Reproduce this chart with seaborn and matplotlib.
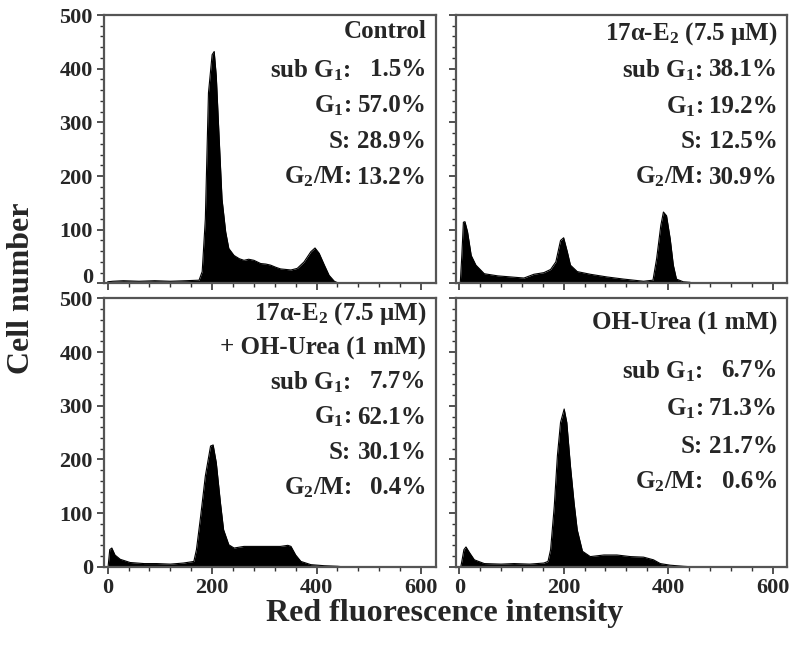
import numpy as np
import pandas as pd
import matplotlib
matplotlib.use('Agg')
import matplotlib.pyplot as plt
from matplotlib.ticker import MultipleLocator
import seaborn as sns

# histogram outlines (channel, cell count)
control_x = [0, 10, 30, 60, 90, 120, 150, 175, 181, 187, 193, 200, 204, 208, 213, 219, 226, 232, 242, 252,
             261, 270, 280, 293, 303, 312, 322, 331, 341, 351, 363, 376, 389, 397, 405, 415, 424, 434, 443]
control_y = [3, 4, 5, 4, 5, 4, 5, 6, 22, 120, 355, 426, 432, 386, 281, 157, 96, 65, 52, 46,
             43, 45, 43, 37, 36, 34, 30, 27, 26, 25, 28, 40, 59, 66, 56, 34, 15, 4, 0]

e2_x = [2, 5, 8, 11, 16, 23, 32, 48, 74, 99, 124, 143, 162, 175, 185, 194, 200, 207, 213, 226,
        251, 283, 315, 353, 371, 378, 386, 391, 397, 404, 410, 416, 429, 442, 448]
e2_y = [0, 52, 114, 115, 96, 52, 34, 18, 14, 12, 10, 17, 20, 26, 40, 80, 85, 59, 34, 22,
        17, 12, 8, 4, 6, 46, 108, 133, 126, 83, 34, 8, 3, 2, 0]

combo_x = [1, 4, 8, 14, 24, 43, 70, 94, 120, 145, 165, 170, 178, 187, 197, 202, 208, 216, 222, 232,
           242, 261, 280, 306, 331, 345, 351, 360, 370, 389, 415, 440, 450]
combo_y = [2, 32, 35, 22, 14, 8, 6, 6, 5, 7, 10, 32, 94, 169, 225, 227, 194, 119, 69, 41,
           35, 38, 38, 38, 38, 40, 38, 22, 10, 4, 2, 1, 0]

oh_x = [3, 5, 9, 13, 20, 29, 48, 80, 105, 135, 162, 170, 175, 182, 188, 194, 201, 206, 213, 220,
        226, 236, 251, 277, 302, 328, 353, 372, 385, 404, 429, 445]
oh_y = [0, 10, 32, 37, 26, 13, 6, 5, 6, 5, 7, 10, 32, 113, 207, 269, 294, 269, 188, 119,
        69, 29, 19, 22, 22, 19, 18, 13, 6, 3, 1, 0]

titles = [['Control'],
          ['17α-E$_2$ (7.5 μM)'],
          ['17α-E$_2$ (7.5 μM)', '+ OH-Urea (1 mM)'],
          ['OH-Urea (1 mM)']]
phase_labels = ['sub G$_1$:', 'G$_1$:', 'S:', 'G$_2$/M:']
control_pct = ['1.5%', '57.0%', '28.9%', '13.2%']
e2_pct = ['38.1%', '19.2%', '12.5%', '30.9%']
combo_pct = ['7.7%', '62.1%', '30.1%', '0.4%']
oh_pct = ['6.7%', '71.3%', '21.7%', '0.6%']

sns.set_style('ticks')
plt.rcParams['font.family'] = ['Liberation Serif', 'DejaVu Serif']
plt.rcParams['font.weight'] = 'bold'
plt.rcParams['mathtext.fontset'] = 'custom'
plt.rcParams['mathtext.rm'] = 'Liberation Serif:bold'
plt.rcParams['mathtext.it'] = 'Liberation Serif:bold'
plt.rcParams['mathtext.bf'] = 'Liberation Serif:bold'

panels = [
    (control_x, control_y, titles[0], control_pct, [0.937], [0.796, 0.663, 0.53, 0.396]),
    (e2_x, e2_y, titles[1], e2_pct, [0.93], [0.796, 0.66, 0.53, 0.396]),
    (combo_x, combo_y, titles[2], combo_pct, [0.944, 0.813], [0.689, 0.558, 0.427, 0.296]),
    (oh_x, oh_y, titles[3], oh_pct, [0.906], [0.73, 0.588, 0.449, 0.318]),
]

fig, axes = plt.subplots(2, 2, figsize=(8, 6.53), dpi=100, sharex=True, sharey=True)
fig.subplots_adjust(left=0.13, right=0.984, top=0.977, bottom=0.132, wspace=0.06, hspace=0.056)

for ax, (xs, ys, ttl, pct, ty, py) in zip(axes.flat, panels):
    df = pd.DataFrame({'channel': xs, 'count': ys})
    sns.lineplot(data=df, x='channel', y='count', ax=ax, color='black', lw=0.8, estimator=None)
    ax.fill_between(df['channel'], 0, df['count'], color='black', lw=0)
    for t, yy in zip(ttl, ty):
        ax.text(0.972, yy, t, transform=ax.transAxes, ha='right', va='center', fontsize=18, fontweight='bold')
    for lab, val, yy in zip(phase_labels, pct, py):
        ax.text(0.745, yy, lab, transform=ax.transAxes, ha='right', va='center', fontsize=18, fontweight='bold')
        ax.text(0.972, yy, val, transform=ax.transAxes, ha='right', va='center', fontsize=18, fontweight='bold')
    ax.set_xlim(-7, 628)
    ax.set_ylim(0, 500)
    ax.set_xlabel('')
    ax.set_ylabel('')
    ax.xaxis.set_major_locator(MultipleLocator(200))
    ax.xaxis.set_minor_locator(MultipleLocator(40))
    ax.set_yticks([0, 100, 200, 300, 400, 500])
    ax.yaxis.set_minor_locator(MultipleLocator(20))
    ax.tick_params(which='major', direction='out', length=5, width=1.2, color='#333333',
                   labelsize=16, pad=3)
    ax.tick_params(which='minor', direction='out', length=3, width=1.0, color='#333333')
    for s in ax.spines.values():
        s.set_visible(True)
        s.set_color('#555555')
        s.set_linewidth(1.6)

fig.canvas.draw()
for ax in axes.flat:
    for lbl in ax.get_xticklabels() + ax.get_yticklabels():
        lbl.set_fontweight('bold')

# keep the top panel's "0" and the lower panel's "500" from running into each other
for tick, loc in zip(axes[0, 0].yaxis.get_major_ticks(), axes[0, 0].get_yticks()):
    if loc == 0:
        tick.label1.set_verticalalignment('baseline')
for tick, loc in zip(axes[1, 0].yaxis.get_major_ticks(), axes[1, 0].get_yticks()):
    if loc == 500:
        tick.label1.set_verticalalignment('center_baseline')

fig.text(0.0275, 0.559, 'Cell number', rotation=90, ha='center', va='center', fontsize=23, fontweight='bold')
fig.text(0.556, 0.061, 'Red fluorescence intensity', ha='center', va='center', fontsize=23, fontweight='bold')

fig.savefig('out.png', dpi=100)
